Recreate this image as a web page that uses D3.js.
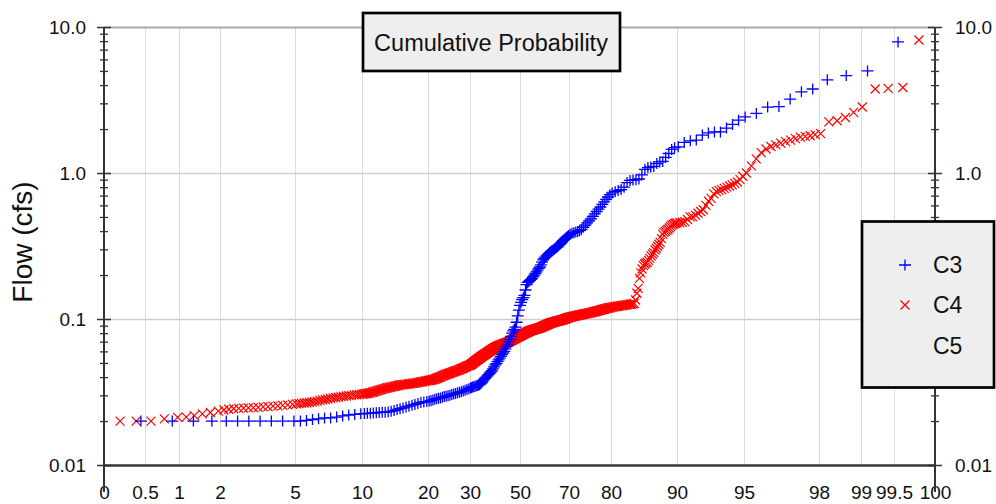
<!DOCTYPE html>
<html><head><meta charset="utf-8">
<script src="https://cdn.jsdelivr.net/npm/d3@7"></script>
<style>body{margin:0;background:#fff}svg{display:block}</style>
</head><body>
<script>
// ---------------- DATA ----------------
const probTicks = [0,0.5,1,2,5,10,20,30,50,70,80,90,95,98,99,99.5,100];
const probTickLabels = ["0","0.5","1","2","5","10","20","30","50","70","80","90","95","98","99","99.5","100"];
const flowTicks = [0.01,0.1,1,10];
const flowTickLabels = ["0.01","0.1","1.0","10.0"];
const seriesNames = ["C3","C4","C5"];
const chartTitle = "Cumulative Probability";
const yTitle = "Flow (cfs)";

// sorted flows (ascending), plotted at Weibull position rank/(n+1)
const c3Flow = [
0.020,0.020,0.020,0.020,0.020,0.020,0.020,0.020,0.020,0.020,
0.020,0.020,0.0202,0.0205,0.0207,0.0210,0.0210,0.0213,0.0217,0.0220,
0.0222,0.0224,0.0225,0.0226,0.0226,0.0227,0.0228,0.0229,0.0230,0.0230,
0.0231,0.0233,0.0236,0.0240,0.0243,0.0246,0.0250,0.0253,0.0257,0.0260,
0.0264,0.0268,0.0270,0.0272,0.0274,0.0276,0.0279,0.0282,0.0284,0.0286,
0.0288,0.0291,0.0294,0.0296,0.0298,0.0301,0.0304,0.0306,0.0309,0.0312,
0.0315,0.0318,0.0321,0.0325,0.0329,0.0333,0.0337,0.0340,0.0342,0.0344,
0.0346,0.0348,0.0350,0.0352,0.0355,0.0360,0.0366,0.0375,0.0385,0.0393,
0.0400,0.0408,0.0416,0.0425,0.0433,0.0442,0.0455,0.0470,0.0485,0.0495,
0.0510,0.0525,0.0540,0.0555,0.0570,0.0585,0.0600,0.0625,0.0650,0.0670,
0.0700,0.0725,0.0760,0.0800,0.0830,0.0850,0.0880,0.0950,0.105,0.115,
0.124,0.130,0.136,0.140,0.145,0.158,0.172,0.178,0.181,0.184,
0.187,0.190,0.195,0.200,0.205,0.210,0.216,0.222,0.227,0.235,
0.245,0.254,0.260,0.265,0.270,0.275,0.280,0.285,0.290,0.294,
0.297,0.301,0.305,0.309,0.312,0.318,0.324,0.330,0.337,0.344,
0.350,0.356,0.362,0.367,0.373,0.380,0.386,0.390,0.394,0.398,
0.403,0.410,0.425,0.440,0.455,0.470,0.485,0.505,0.525,0.545,
0.565,0.585,0.610,0.635,0.660,0.685,0.710,0.730,0.745,0.758,
0.770,0.800,0.860,0.890,0.895,0.900,0.910,0.970,1.06,1.09,
1.10,1.11,1.16,1.19,1.20,1.28,1.36,1.45,1.49,1.51,
1.62,1.66,1.68,1.82,1.88,1.91,1.91,2.03,2.15,2.30,
2.42,2.56,2.83,2.85,3.21,3.60,3.76,4.35,4.65,5.00,7.90
];
const c4Flow = [
0.0200,0.0200,0.0200,0.0207,0.0212,0.0213,0.0218,0.0224,0.0229,0.0234,
0.0238,0.0241,0.0243,0.0244,0.0245,0.0246,0.0247,0.0248,0.0250,0.0251,
0.0253,0.0254,0.0256,0.0258,0.0260,0.0262,0.0263,0.0264,0.0266,0.0267,
0.0268,0.0270,0.0272,0.0274,0.0277,0.0279,0.0281,0.0283,0.0286,0.0288,
0.0290,0.0292,0.0294,0.0295,0.0297,0.0299,0.0300,0.0302,0.0303,0.0304,
0.0305,0.0306,0.0307,0.0308,0.0309,0.0310,0.0312,0.0313,0.0315,0.0316,
0.0319,0.0321,0.0323,0.0325,0.0327,0.0329,0.0331,0.0333,0.0335,0.0337,
0.0338,0.0340,0.0341,0.0343,0.0344,0.0346,0.0347,0.0349,0.0351,0.0353,
0.0354,0.0355,0.0355,0.0356,0.0357,0.0358,0.0359,0.0360,0.0361,0.0362,
0.0363,0.0364,0.0365,0.0367,0.0368,0.0370,0.0371,0.0373,0.0374,0.0376,
0.0377,0.0378,0.0379,0.0380,0.0381,0.0382,0.0383,0.0384,0.0385,0.0387,
0.0389,0.0391,0.0393,0.0395,0.0397,0.0399,0.0401,0.0403,0.0406,0.0409,
0.0411,0.0413,0.0415,0.0417,0.0419,0.0421,0.0423,0.0425,0.0427,0.0429,
0.0431,0.0433,0.0435,0.0437,0.0439,0.0441,0.0443,0.0445,0.0447,0.0449,
0.0452,0.0455,0.0457,0.0460,0.0462,0.0465,0.0468,0.0471,0.0474,0.0477,
0.0479,0.0481,0.0483,0.0485,0.0488,0.0491,0.0494,0.0497,0.0500,0.0503,
0.0506,0.0509,0.0512,0.0515,0.0518,0.0521,0.0524,0.0527,0.0530,0.0533,
0.0536,0.0539,0.0542,0.0545,0.0548,0.0551,0.0554,0.0557,0.0560,0.0563,
0.0566,0.0569,0.0572,0.0575,0.0578,0.0581,0.0584,0.0587,0.0590,0.0593,
0.0596,0.0600,0.0603,0.0606,0.0609,0.0612,0.0615,0.0618,0.0621,0.0624,
0.0627,0.0630,0.0633,0.0636,0.0639,0.0642,0.0645,0.0647,0.0650,0.0652,
0.0654,0.0656,0.0658,0.0660,0.0662,0.0664,0.0666,0.0668,0.0670,0.0672,
0.0674,0.0676,0.0678,0.0680,0.0682,0.0684,0.0686,0.0688,0.0690,0.0692,
0.0695,0.0698,0.0701,0.0704,0.0707,0.0710,0.0713,0.0716,0.0719,0.0722,
0.0725,0.0728,0.0731,0.0734,0.0737,0.0740,0.0743,0.0746,0.0749,0.0752,
0.0755,0.0758,0.0761,0.0764,0.0767,0.0770,0.0773,0.0776,0.0779,0.0782,
0.0785,0.0788,0.0791,0.0794,0.0797,0.0800,0.0803,0.0806,0.0809,0.0812,
0.0815,0.0818,0.0821,0.0824,0.0827,0.0830,0.0832,0.0834,0.0836,0.0838,
0.0840,0.0842,0.0844,0.0846,0.0848,0.0850,0.0852,0.0854,0.0856,0.0858,
0.0860,0.0862,0.0864,0.0866,0.0868,0.0870,0.0872,0.0875,0.0878,0.0881,
0.0884,0.0887,0.0890,0.0893,0.0896,0.0899,0.0902,0.0905,0.0908,0.0911,
0.0914,0.0917,0.0920,0.0923,0.0926,0.0929,0.0932,0.0935,0.0938,0.0941,
0.0943,0.0945,0.0947,0.0949,0.0951,0.0953,0.0955,0.0957,0.0959,0.0961,
0.0963,0.0965,0.0967,0.0969,0.0971,0.0973,0.0975,0.0977,0.0979,0.0981,
0.0983,0.0985,0.0987,0.0989,0.0991,0.0993,0.0996,0.0999,0.1002,0.1005,
0.1008,0.1011,0.1014,0.1017,0.1020,0.1023,0.1026,0.1029,0.1032,0.1035,
0.1038,0.1041,0.1044,0.1047,0.1050,0.1053,0.1056,0.1059,0.1062,0.1065,
0.1068,0.1071,0.1074,0.1077,0.1080,0.1083,0.1086,0.1089,0.1092,0.1095,
0.1098,0.1101,0.1104,0.1107,0.1110,0.1114,0.1118,0.1122,0.1126,0.1130,
0.1134,0.1138,0.1142,0.1146,0.1150,0.1154,0.1158,0.1162,0.1166,0.1170,
0.1174,0.1178,0.1182,0.1186,0.1190,0.1194,0.1198,0.1202,0.1206,0.1210,
0.1214,0.1218,0.1222,0.1226,0.1230,0.1234,0.1238,0.1242,0.1246,0.1250,
0.1254,0.1258,0.1262,0.1266,0.1270,0.1280,
0.135,0.150,0.162,0.190,0.207,0.220,0.232,0.238,0.242,0.245,
0.252,0.260,0.270,0.278,0.285,0.297,0.305,0.315,0.325,0.335,
0.355,0.380,0.392,0.398,0.405,0.412,0.420,0.430,0.440,0.445,
0.450,0.453,0.455,0.458,0.460,0.465,0.480,0.500,0.500,0.515,
0.530,0.545,0.560,0.600,0.640,0.670,0.720,0.745,0.760,0.770,
0.785,0.800,0.815,0.830,0.850,0.867,0.900,0.950,1.00,1.12,
1.25,1.38,1.46,1.52,1.56,1.60,1.64,1.68,1.72,1.76,
1.78,1.80,1.83,1.86,2.24,2.28,2.40,2.60,2.83,3.76,
3.80,3.85,8.15
];
const c5Flow = [];

// ---------------- LAYOUT ----------------
const W = 996, H = 504;
const L = 104, R = 935, T = 27, B = 465;
const probTickPx = [104,145,179,220,295,362,428,470,520,569,611,677,744,819,861,894,935];
const FONT = "'Liberation Sans', Arial, sans-serif";
const NARROW = "'Liberation Sans Narrow', 'Liberation Sans', Arial, sans-serif";
const colors = {C3:"#0000ff", C4:"#ff0000", C5:"none"};
const plusPath = "M-6,0H6M0,-5.5V5.5";
const crossPath = "M-4.5,-4.5L4.5,4.5M-4.5,4.5L4.5,-4.5";

const x = d3.scaleLinear().domain(probTicks).range(probTickPx);
const y = d3.scaleLog().domain([0.01, 10]).range([B, T]);

const svg = d3.select("body").append("svg").attr("width", W).attr("height", H)
  .style("font-family", FONT);

// vertical grid
svg.append("g").attr("transform", `translate(0,${B})`)
  .call(d3.axisBottom(x).tickValues(probTicks.filter(v => v > 0 && v < 100)).tickSize(-(B - T)).tickFormat(""))
  .call(g => g.select(".domain").remove())
  .call(g => g.selectAll(".tick line").attr("stroke", "#dcdcdc").attr("stroke-width", 1));

// horizontal grid
svg.append("g").attr("transform", `translate(${L},0)`)
  .call(d3.axisLeft(y).tickValues([0.1, 1, 10]).tickSize(-(R - L)).tickFormat(""))
  .call(g => g.select(".domain").remove())
  .call(g => g.selectAll(".tick line")
     .attr("stroke", d => d === 10 ? "#a8a8a8" : "#cdcdcd")
     .attr("stroke-width", d => d === 10 ? 2 : 1.6));

// data
function positioned(vals) {
  const n = vals.length;
  return vals.map((v, i) => ({ p: 100 * (i + 1) / (n + 1), v }));
}
svg.append("g").selectAll("path").data(positioned(c4Flow)).join("path")
  .attr("transform", d => `translate(${x(d.p)},${y(d.v)})`)
  .attr("d", crossPath).attr("fill", "none").attr("stroke", colors.C4).attr("stroke-width", 1.2);
svg.append("g").selectAll("path").data(positioned(c3Flow)).join("path")
  .attr("transform", d => `translate(${x(d.p)},${y(d.v)})`)
  .attr("d", plusPath).attr("fill", "none").attr("stroke", colors.C3).attr("stroke-width", 1.3);

// bottom axis
svg.append("g").attr("transform", `translate(0,${B})`)
  .call(d3.axisBottom(x).tickValues(probTicks).tickSize(0).tickSizeOuter(0).tickPadding(21)
        .tickFormat((d, i) => probTickLabels[i]))
  .call(g => g.select(".domain").attr("stroke", "#3a3a3a").attr("stroke-width", 2.5))
  .call(g => g.selectAll("text").attr("font-size", 19).attr("font-family", FONT).attr("fill", "#111"));

const minorTicks = y.ticks().filter(v => !flowTicks.some(t => Math.abs(t - v) < 1e-9));

// left axis
svg.append("g").attr("transform", `translate(${L},0)`)
  .call(d3.axisLeft(y).tickValues(flowTicks).tickSize(7).tickSizeOuter(0).tickPadding(11)
        .tickFormat((d, i) => flowTickLabels[i]))
  .call(g => g.select(".domain").remove())
  .call(g => g.selectAll(".tick line").attr("x1", 7).attr("stroke", "#333").attr("stroke-width", 1.5))
  .call(g => g.selectAll("text").attr("font-size", 19).attr("font-family", FONT).attr("fill", "#111"));
svg.append("g").attr("transform", `translate(${L},0)`)
  .call(d3.axisLeft(y).tickValues(minorTicks).tickSize(4).tickSizeOuter(0).tickFormat(""))
  .call(g => g.select(".domain").remove())
  .call(g => g.selectAll(".tick line").attr("x1", 4).attr("stroke", "#333").attr("stroke-width", 1.3));

// right axis (the 0.1 label sits behind the legend box in the reference, so it is left blank)
svg.append("g").attr("transform", `translate(${R},0)`)
  .call(d3.axisRight(y).tickValues(flowTicks).tickSize(7).tickSizeOuter(0).tickPadding(13)
        .tickFormat((d, i) => d === 0.1 ? "" : flowTickLabels[i]))
  .call(g => g.select(".domain").remove())
  .call(g => g.selectAll(".tick line").attr("x1", -7).attr("stroke", "#333").attr("stroke-width", 1.5))
  .call(g => g.selectAll("text").attr("font-size", 19).attr("font-family", FONT).attr("fill", "#111"));
svg.append("g").attr("transform", `translate(${R},0)`)
  .call(d3.axisRight(y).tickValues(minorTicks).tickSize(4).tickSizeOuter(0).tickFormat(""))
  .call(g => g.select(".domain").remove())
  .call(g => g.selectAll(".tick line").attr("x1", -4).attr("stroke", "#333").attr("stroke-width", 1.3));

// vertical axis lines (extend below the bottom axis)
[L, R].forEach(px => svg.append("line").attr("x1", px).attr("x2", px).attr("y1", T).attr("y2", 492)
  .attr("stroke", "#333").attr("stroke-width", 2));

// y title
svg.append("text").attr("transform", `translate(32,242) rotate(-90)`)
  .attr("text-anchor", "middle").attr("font-size", 28).attr("fill", "#111").text(yTitle);

// title box
svg.append("rect").attr("x", 363).attr("y", 13).attr("width", 257).attr("height", 58)
  .attr("fill", "#eeeeee").attr("stroke", "#000").attr("stroke-width", 2.7);
svg.append("text").attr("x", 491).attr("y", 50.5).attr("text-anchor", "middle")
  .attr("font-size", 23.5).attr("font-family", FONT).attr("fill", "#111").text(chartTitle);

// legend box
const leg = svg.append("g");
leg.append("rect").attr("x", 862).attr("y", 221.5).attr("width", 132).attr("height", 166)
  .attr("fill", "#eeeeee").attr("stroke", "#000").attr("stroke-width", 2.7);
const legY = [265, 305, 346];
const legSym = [plusPath, crossPath, null];
seriesNames.forEach((name, i) => {
  if (legSym[i]) leg.append("path").attr("transform", `translate(905,${legY[i]})`)
    .attr("d", legSym[i]).attr("fill", "none").attr("stroke", colors[name]).attr("stroke-width", 1.3);
  leg.append("text").attr("x", 933).attr("y", legY[i] + 8.3)
    .attr("font-size", 23).attr("font-family", NARROW).attr("fill", "#111").text(name);
});
</script>
</body></html>
